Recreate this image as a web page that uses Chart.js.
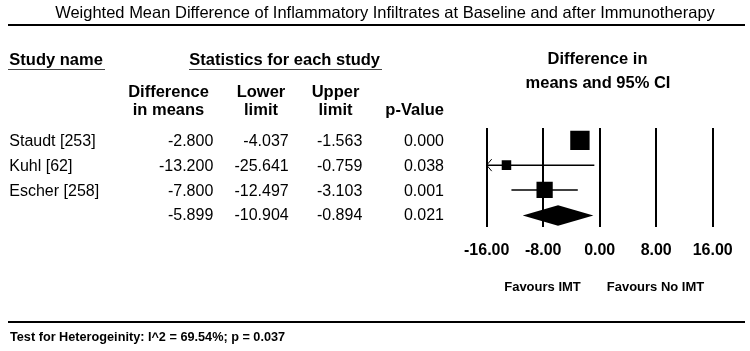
<!DOCTYPE html>
<html><head><meta charset="utf-8">
<script src="https://cdn.jsdelivr.net/npm/chart.js@4.4.1/dist/chart.umd.min.js"></script>
<style>
html,body{margin:0;padding:0;background:#fff;}
#wrap{position:relative;width:750px;height:351px;overflow:hidden;font-family:Arial,"Liberation Sans",sans-serif;color:#000;}
#c{position:absolute;left:0;top:0;}
.t{position:absolute;white-space:nowrap;line-height:1;}
.hl{position:absolute;background:#000;}
</style></head><body>
<div id="wrap"><canvas id="c" width="750" height="351"></canvas></div>
<script>
// ---- data ----
const chartTitle = 'Weighted Mean Difference of Inflammatory Infiltrates at Baseline and after Immunotherapy';
const studyNames = ['Staudt [253]', 'Kuhl [62]', 'Escher [258]'];
const diffMeans = [-2.800, -13.200, -7.800];
const lowerLimits = [-4.037, -25.641, -12.497];
const upperLimits = [-1.563, -0.759, -3.103];
const pValues = [0.000, 0.038, 0.001];
const relWeights = [51.4, 12.4, 36.2];
const summaryMean = -5.899;
const summaryLower = -10.904;
const summaryUpper = -0.894;
const summaryP = 0.021;
const axisTicks = [-16, -8, 0, 8, 16];
const heterogeneityText = 'Test for Heterogeinity: I^2 = 69.54%; p = 0.037';

const FONT = 'Arial, "Liberation Sans", sans-serif';
const wrap = document.getElementById('wrap');
function addText(txt, x, baseline, size, bold, align) {
  const d = document.createElement('div');
  d.className = 't';
  d.textContent = txt;
  d.style.fontSize = size + 'px';
  d.style.fontWeight = bold ? 'bold' : 'normal';
  d.style.top = (baseline - 0.8465 * size) + 'px';
  d.style.left = x + 'px';
  if (align === 'right') d.style.transform = 'translateX(-100%)';
  else if (align === 'center') d.style.transform = 'translateX(-50%)';
  wrap.appendChild(d);
  return d;
}
function addLine(x, y, w, h, color) {
  const d = document.createElement('div');
  d.className = 'hl';
  d.style.left = x + 'px'; d.style.top = y + 'px';
  d.style.width = w + 'px'; d.style.height = h + 'px';
  if (color) d.style.background = color;
  wrap.appendChild(d);
}

const summaryRow = studyNames.length;
const xMin = axisTicks[0], xMax = axisTicks[axisTicks.length - 1];

const ciDatasets = studyNames.map((n, i) => ({
  type: 'line',
  data: [{x: Math.max(lowerLimits[i], xMin), y: i}, {x: Math.min(upperLimits[i], xMax), y: i}],
  borderColor: '#000', borderWidth: 1.5, pointRadius: 0, fill: false
}));

const forestPlugin = {
  id: 'forest',
  afterDatasetsDraw(chart) {
    const {ctx, scales: {x, y}} = chart;
    ctx.save();
    // summary diamond
    const yc = y.getPixelForValue(summaryRow) + 0.8;
    const h = 10.3;
    ctx.beginPath();
    ctx.moveTo(x.getPixelForValue(summaryLower), yc);
    ctx.lineTo(x.getPixelForValue(summaryMean), yc - h);
    ctx.lineTo(x.getPixelForValue(summaryUpper), yc);
    ctx.lineTo(x.getPixelForValue(summaryMean), yc + h);
    ctx.closePath();
    ctx.fillStyle = '#000';
    ctx.fill();
    // arrows for truncated CIs
    ctx.strokeStyle = '#000';
    ctx.lineWidth = 1;
    studyNames.forEach((n, i) => {
      const yy = y.getPixelForValue(i);
      if (lowerLimits[i] < xMin) {
        const xx = x.getPixelForValue(xMin);
        ctx.beginPath();
        ctx.moveTo(xx + 5, yy - 6); ctx.lineTo(xx, yy); ctx.lineTo(xx + 5, yy + 6);
        ctx.stroke();
      }
      if (upperLimits[i] > xMax) {
        const xx = x.getPixelForValue(xMax);
        ctx.beginPath();
        ctx.moveTo(xx - 5, yy - 6); ctx.lineTo(xx, yy); ctx.lineTo(xx - 5, yy + 6);
        ctx.stroke();
      }
    });
    ctx.restore();
  }
};

const chart = new Chart(document.getElementById('c'), {
  type: 'scatter',
  data: {
    datasets: [{
      type: 'scatter',
      data: diffMeans.map((m, i) => ({x: m, y: i})),
      pointStyle: 'rect',
      pointRadius: relWeights.map(w => 2.7 * Math.sqrt(w) / Math.SQRT2),
      pointHoverRadius: relWeights.map(w => 2.7 * Math.sqrt(w) / Math.SQRT2),
      backgroundColor: '#000', borderColor: '#000', pointBorderWidth: 0
    }, ...ciDatasets]
  },
  options: {
    responsive: false, animation: false, devicePixelRatio: 1,
    events: [],
    layout: {padding: {left: 486.7, right: 37.3, top: 128, bottom: 84}},
    plugins: {legend: {display: false}, tooltip: {enabled: false}},
    scales: {
      x: {
        type: 'linear', min: xMin, max: xMax,
        afterBuildTicks: s => { s.ticks = axisTicks.map(v => ({value: v})); },
        afterFit: s => { s.height = 40; },
        grid: {color: '#000', lineWidth: 2, drawTicks: false},
        border: {display: false},
        ticks: {color: '#000', font: {family: FONT, size: 16, weight: 'bold'}, padding: 14,
                maxRotation: 0, autoSkip: false, callback: v => Number(v).toFixed(2)}
      },
      y: {type: 'linear', display: false, min: -0.5, max: summaryRow + 0.5, reverse: true}
    }
  },
  plugins: [forestPlugin]
});

// ---- text and rules ----
addText(chartTitle, 385, 18.3, 16.5, false, 'center');
addLine(8, 24, 737, 2);
addText('Study name', 9.3, 65, 16.5, true, 'left');
addLine(8.3, 68.5, 97, 1.5, '#444');
addText('Statistics for each study', 189.3, 65, 16.5, true, 'left');
addLine(189, 68.5, 193, 1.5, '#444');
addText('Difference', 168.5, 96.7, 16.5, true, 'center');
addText('in means', 168.5, 114.8, 16.5, true, 'center');
addText('Lower', 261, 96.7, 16.5, true, 'center');
addText('limit', 261, 114.8, 16.5, true, 'center');
addText('Upper', 335.5, 96.7, 16.5, true, 'center');
addText('limit', 335.5, 114.8, 16.5, true, 'center');
addText('p-Value', 444, 114.8, 16.5, true, 'right');
addText('Difference in', 597.5, 64, 16.5, true, 'center');
addText('means and 95% CI', 598, 87.7, 16.5, true, 'center');

const ys = chart.scales.y;
const rowBase = i => ys.getPixelForValue(i) + 6.2;
studyNames.forEach((n, i) => {
  const b = rowBase(i);
  addText(n, 9.3, b, 16, false, 'left');
  addText(diffMeans[i].toFixed(3), 213.3, b, 16, false, 'right');
  addText(lowerLimits[i].toFixed(3), 288.7, b, 16, false, 'right');
  addText(upperLimits[i].toFixed(3), 362.3, b, 16, false, 'right');
  addText(pValues[i].toFixed(3), 444, b, 16, false, 'right');
});
{
  const b = rowBase(summaryRow);
  addText(summaryMean.toFixed(3), 213.3, b, 16, false, 'right');
  addText(summaryLower.toFixed(3), 288.7, b, 16, false, 'right');
  addText(summaryUpper.toFixed(3), 362.3, b, 16, false, 'right');
  addText(summaryP.toFixed(3), 444, b, 16, false, 'right');
}
addText('Favours IMT', 542.5, 291, 13, true, 'center');
addText('Favours No IMT', 655.5, 291, 13, true, 'center');
addLine(8, 321, 737, 2);
addText(heterogeneityText, 10, 341.7, 12.7, true, 'left');
</script>
</body></html>
